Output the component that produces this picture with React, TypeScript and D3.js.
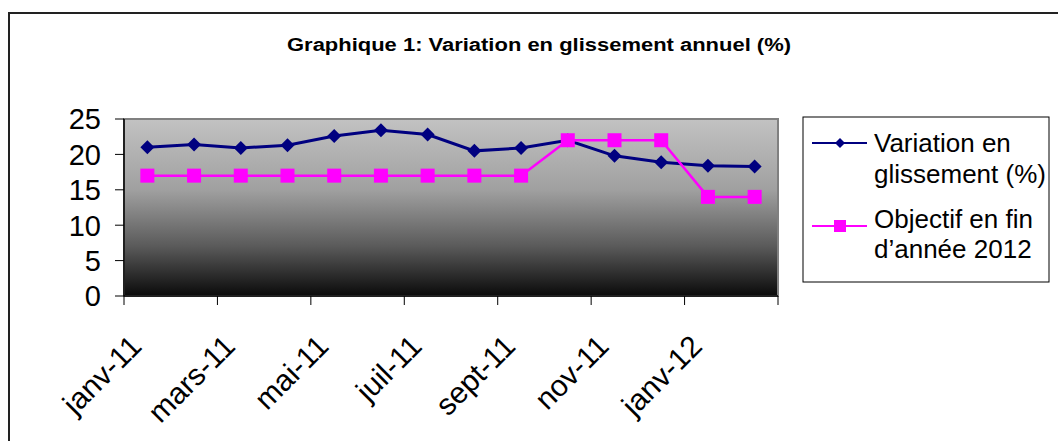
import { scaleBand, scaleLinear, line } from "d3";

const months = [
  "janv-11", "févr-11", "mars-11", "avr-11", "mai-11", "juin-11", "juil-11",
  "août-11", "sept-11", "oct-11", "nov-11", "déc-11", "janv-12", "févr-12",
];
const variation = [21.0, 21.4, 20.9, 21.3, 22.6, 23.4, 22.8, 20.5, 20.9, 22.0, 19.8, 18.9, 18.4, 18.3];
const objectif = [17, 17, 17, 17, 17, 17, 17, 17, 17, 22, 22, 22, 14, 14];
const yTicks = [0, 5, 10, 15, 20, 25];
const title = "Graphique 1: Variation en glissement annuel (%)";
const seriesNames = [["Variation en", "glissement (%)"], ["Objectif en fin", "d’année 2012"]];

const W = 1058;
const H = 441;
const plot = { left: 124, right: 778, top: 119, bottom: 296 };
const font = "Arial, 'Liberation Sans', sans-serif";
const navy = "#000080";
const pink = "#ff00ff";

export default function App() {
  const x = scaleBand<string>().domain(months).range([plot.left, plot.right]);
  const y = scaleLinear().domain([0, 25]).range([plot.bottom, plot.top]);
  const cx = (m: string) => (x(m) ?? 0) + x.bandwidth() / 2;

  const lineFn = line<number>()
    .x((_, i) => cx(months[i]))
    .y((d) => y(d));

  // ticks between every second category
  const xTickPos = months
    .map((m, i) => (i % 2 === 0 ? x(m) ?? 0 : null))
    .filter((v): v is number => v !== null)
    .concat([plot.right]);

  const diamond = (px: number, py: number, r: number) =>
    `M${px},${py - r}L${px + r},${py}L${px},${py + r}L${px - r},${py}Z`;

  return (
    <svg
      width={W}
      height={H}
      style={{ position: "absolute", left: 0, top: 0, background: "#fff" }}
      fontFamily={font}
    >
      <defs>
        <linearGradient id="bg" x1="0" y1="0" x2="0" y2="1">
          <stop offset="0%" stopColor="#c2c2c2" />
          <stop offset="40%" stopColor="#a0a0a0" />
          <stop offset="72%" stopColor="#5a5a5a" />
          <stop offset="100%" stopColor="#0a0a0a" />
        </linearGradient>
      </defs>

      {/* outer frame */}
      <rect x={9} y={13} width={1100} height={500} fill="none" stroke="#222" strokeWidth={2} />

      <text x={539} y={51} textAnchor="middle" fontSize={18} fontWeight="bold" textLength={504} lengthAdjust="spacingAndGlyphs">
        {title}
      </text>

      {/* plot area */}
      <rect
        x={plot.left}
        y={plot.top}
        width={plot.right - plot.left}
        height={plot.bottom - plot.top}
        fill="url(#bg)"
        stroke="#808080"
        strokeWidth={2}
      />

      {/* y axis */}
      <line x1={plot.left} x2={plot.left} y1={plot.top} y2={plot.bottom} stroke="#000" strokeWidth={1.5} />
      {yTicks.map((t) => (
        <g key={t}>
          <line x1={plot.left - 9} x2={plot.left} y1={y(t)} y2={y(t)} stroke="#000" />
          <text x={101} y={y(t)} dy="0.36em" textAnchor="end" fontSize={29}>
            {t}
          </text>
        </g>
      ))}

      {/* x axis */}
      <line x1={plot.left} x2={plot.right} y1={plot.bottom} y2={plot.bottom} stroke="#000" strokeWidth={1.5} />
      {xTickPos.map((p, i) => (
        <line key={i} x1={p} x2={p} y1={plot.bottom} y2={plot.bottom + 9} stroke="#000" />
      ))}
      {months
        .filter((_, i) => i % 2 === 0)
        .map((m) => (
          <text
            key={m}
            transform={`translate(${cx(m) - 4},${plot.bottom + 52}) rotate(-45)`}
            textAnchor="end"
            fontSize={30}
          >
            {m}
          </text>
        ))}

      {/* series */}
      <path d={lineFn(variation) ?? ""} fill="none" stroke={navy} strokeWidth={3} />
      {variation.map((v, i) => (
        <path key={i} d={diamond(cx(months[i]), y(v), 7)} fill={navy} />
      ))}
      <path d={lineFn(objectif) ?? ""} fill="none" stroke={pink} strokeWidth={2.5} />
      {objectif.map((v, i) => (
        <rect key={i} x={cx(months[i]) - 7} y={y(v) - 7} width={14} height={14} fill={pink} />
      ))}

      {/* legend */}
      <rect x={803} y={117} width={246} height={165} fill="#fff" stroke="#000" strokeWidth={1} />
      <line x1={812} x2={867} y1={143} y2={143} stroke={navy} strokeWidth={2} />
      <path d={diamond(840, 143, 5)} fill={navy} />
      <line x1={812} x2={867} y1={226} y2={226} stroke={pink} strokeWidth={2} />
      <rect x={834} y={220} width={12} height={12} fill={pink} />
      {seriesNames.map((lines, si) =>
        lines.map((l, li) => (
          <text key={`${si}-${li}`} x={874} y={[[152, 183], [228, 258]][si][li]} fontSize={26}>
            {l}
          </text>
        )),
      )}
    </svg>
  );
}
